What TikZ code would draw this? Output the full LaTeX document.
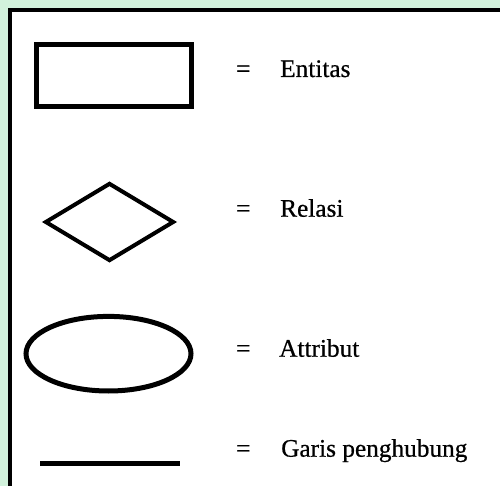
\documentclass[tikz,border=0pt]{standalone}
\usepackage{fontspec}
\setmainfont{Liberation Serif}
\newfontfamily\lblfont{Liberation Serif}[FakeBold=0.6]
\usetikzlibrary{shapes.geometric}
\definecolor{glow}{HTML}{D2F2DC}
\tikzset{
  shp/.style={draw=black, line width=5pt},
  lbl/.style={anchor=base west, inner sep=0pt, font=\lblfont\fontsize{25.3}{30}\selectfont},
}
\begin{document}
\begin{tikzpicture}[x=1pt,y=-1pt]
\useasboundingbox (0,0) rectangle (500,486);
\fill[glow] (0,0) rectangle (500,486);
\fill[white] (10,10) rectangle (500,486);
\draw[line width=4pt] (10,486) -- (10,10) -- (500,10);
% shapes
\node (ent) [shp, rectangle, minimum width=154.5pt, minimum height=62.5pt, inner sep=0pt] at (113.75,75.75) {};
\node (rel) [shp, line width=4pt, diamond, minimum width=129pt, minimum height=78pt, inner sep=0pt, aspect=1.65] at (109.5,222) {};
\node (att) [shp, ellipse, minimum width=165pt, minimum height=74.6pt, inner sep=0pt] at (108.5,353.7) {};
\coordinate (la) at (40,463.5);
\coordinate (lb) at (180,463.5);
\draw[line width=5pt] (la) -- (lb);
% labels
\node (eq1) [lbl] at (236,77) {=};
\node (t1) [lbl] at (280,77) {Entitas};
\node (eq2) [lbl] at (236,216.7) {=};
\node (t2) [lbl] at (280,216.7) {Relasi};
\node (eq3) [lbl] at (236,356.7) {=};
\node (t3) [lbl] at (279,356.7) {Attribut};
\node (eq4) [lbl] at (236,456.7) {=};
\node (t4) [lbl] at (281,456.7) {Garis penghubung};
\end{tikzpicture}
\end{document}
